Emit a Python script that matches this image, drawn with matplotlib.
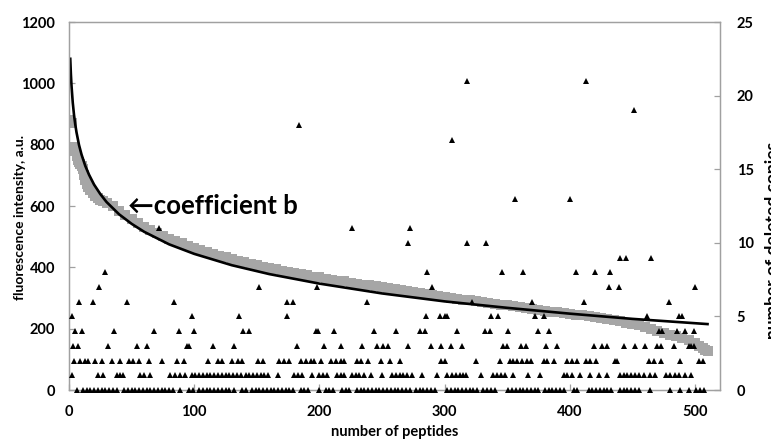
import numpy as np
import matplotlib.pyplot as plt

plt.rcParams['font.family'] = ['Lato', 'DejaVu Sans']

# measured fluorescence intensity (sorted), grey squares
intensity_x = [1, 2, 3, 4, 5, 6, 7, 8, 9, 10, 11, 12, 13, 14, 15, 17, 19, 21, 23, 25, 27,
               30, 35, 40, 45, 50, 55, 60, 65, 70, 75, 80, 85, 90, 95, 100, 105, 110, 115,
               120, 125, 130, 135, 140, 145, 150, 155, 160, 165, 170, 175, 180, 185, 190,
               195, 200, 205, 210, 215, 220, 225, 230, 235, 240, 245, 250, 255, 260, 265,
               270, 275, 280, 285, 290, 295, 300, 305, 310, 315, 320, 325, 330, 335, 340,
               345, 350, 355, 360, 365, 370, 375, 380, 385, 390, 395, 400, 405, 410, 415,
               420, 425, 430, 435, 440, 445, 450, 455, 460, 465, 470, 475, 480, 485, 490,
               495, 500, 503, 506, 508, 510]
intensity_y = [880, 872, 792, 786, 778, 764, 750, 742, 737, 732, 722, 702, 686, 673, 663, 651,
               642, 634, 627, 620, 615, 610, 600, 585, 570, 557, 544, 532, 522, 512, 503, 494,
               486, 478, 471, 464, 457, 451, 444, 438, 433, 427, 422, 417, 412, 407, 402, 398,
               394, 389, 385, 381, 377, 374, 370, 367, 363, 360, 357, 354, 350, 347, 344, 341,
               338, 335, 332, 329, 326, 322, 319, 316, 313, 310, 307, 304, 301, 298, 295, 292,
               289, 286, 283, 281, 278, 276, 273, 270, 267, 264, 261, 258, 256, 253, 251, 249,
               246, 243, 240, 237, 234, 231, 228, 224, 220, 216, 211, 206, 200, 193, 186, 180,
               175, 170, 162, 152, 145, 138, 132, 126]

# logarithmic trend line
trend_x = [1, 1.5, 2, 3, 4, 5, 6, 8, 10, 13, 16, 20, 25, 30, 40, 50, 60, 80, 100, 130,
           160, 200, 250, 300, 350, 400, 450, 510]
trend_y = [1080, 1030, 992, 937, 897, 866, 840, 799, 768, 731, 702, 670, 639, 613, 573, 542,
           516, 475, 444, 407, 378, 347, 315, 289, 268, 249, 232, 215]

# number of deleted copies (right axis): peptide positions for each count
deleted = {
    0: [6, 11, 14, 17, 20, 23, 26, 29, 32, 35, 38, 44, 47, 50, 53, 56, 59, 62, 65, 68, 71,
        74, 77, 80, 83, 89, 96, 99, 104, 107, 110, 113, 116, 119, 122, 125, 128, 132, 138,
        141, 146, 149, 152, 155, 158, 161, 164, 167, 170, 173, 176, 179, 185, 188, 191, 200,
        205, 208, 211, 218, 221, 224, 230, 233, 236, 239, 242, 245, 248, 251, 254, 257, 260,
        263, 266, 269, 272, 277, 280, 283, 286, 289, 292, 302, 305, 308, 311, 314, 317, 320,
        323, 326, 331, 334, 337, 340, 351, 354, 357, 360, 363, 366, 369, 372, 375, 380, 383,
        386, 389, 392, 395, 403, 406, 415, 418, 421, 424, 427, 430, 433, 440, 443, 446, 449,
        452, 455, 464, 480, 488, 495, 501, 504, 507],
    1: [2, 23, 27, 38, 41, 43, 57, 60, 65, 81, 85, 89, 93, 98, 101, 104, 107, 110, 113, 116,
        119, 122, 125, 128, 131, 134, 137, 141, 144, 147, 150, 153, 156, 159, 167, 180, 183,
        186, 194, 200, 203, 206, 214, 217, 220, 226, 229, 232, 236, 241, 250, 258, 261, 264,
        267, 270, 274, 282, 294, 302, 306, 309, 312, 315, 317, 329, 339, 342, 345, 348, 355,
        367, 376, 395, 398, 402, 408, 416, 423, 430, 440, 443, 446, 449, 452, 455, 459, 464,
        468, 477, 480, 484, 487, 492, 497],
    2: [4, 9, 13, 15, 21, 26, 34, 41, 48, 51, 56, 64, 74, 86, 92, 111, 119, 122, 130, 135,
        138, 151, 155, 168, 172, 176, 185, 189, 193, 196, 201, 209, 213, 217, 220, 230, 233,
        239, 249, 256, 264, 297, 300, 325, 344, 352, 355, 358, 362, 366, 369, 379, 382, 387,
        398, 402, 406, 413, 416, 421, 436, 438, 463, 467, 473, 488, 503, 506],
    3: [3, 7, 31, 54, 62, 94, 96, 115, 132, 182, 204, 217, 234, 246, 251, 255, 271, 289, 297,
        305, 314, 347, 350, 361, 365, 381, 390, 419, 426, 430, 443, 452, 460, 470, 473, 483,
        495, 497, 499],
    4: [5, 10, 36, 68, 88, 100, 139, 144, 197, 199, 212, 244, 261, 280, 284, 310, 332, 336,
        351, 375, 383, 471, 474, 486, 492, 499],
    5: [2, 98, 136, 174, 285, 296, 300, 302, 337, 343, 372, 379, 462, 487, 490],
    6: [8, 19, 46, 84, 174, 179, 238, 322, 370, 411, 479],
    7: [24, 152, 198, 290, 431, 439, 500],
    8: [29, 286, 346, 363, 405, 420, 432],
    9: [440, 445, 465],
    10: [271, 318, 333],
    11: [72, 226, 272],
    13: [356, 400],
    17: [306],
    18: [184],
    19: [451],
    21: [318, 413],
}

spine_grey = '#A0A0A0'

fig = plt.figure(figsize=(7.71, 4.42), dpi=100)
ax = fig.add_axes([0.0895, 0.1176, 0.8444, 0.8326])

ax.plot(intensity_x, intensity_y, 's', color='#A6A6A6', markersize=7.5,
        markeredgewidth=0, zorder=2)
ax.plot(trend_x, trend_y, '-', color='black', linewidth=1.9, zorder=3)

ax.set_xlim(0, 520)
ax.set_ylim(0, 1200)
ax.set_xticks(range(0, 501, 100))
ax.set_yticks(range(0, 1201, 200))

ax.text(47, 600, '\u2190coefficient b', fontsize=18.5, fontweight='bold',
        ha='left', va='center', zorder=5)

ax2 = ax.twinx()
for count, xs in deleted.items():
    ax2.plot(xs, [count] * len(xs), '^', color='black', markersize=4.6,
             markeredgewidth=0, linestyle='none', clip_on=False, zorder=4)
ax2.set_ylim(0, 25)
ax2.set_yticks(range(0, 26, 5))

for a in (ax, ax2):
    for s in a.spines.values():
        s.set_color(spine_grey)
        s.set_linewidth(0.9)
        s.set_zorder(1)
    a.tick_params(direction='in', length=4, width=0.9, color=spine_grey)
    for lab in a.get_xticklabels() + a.get_yticklabels():
        lab.set_fontweight('bold')
        lab.set_fontsize(10.5)
ax.tick_params(axis='y', pad=10)
ax.tick_params(axis='x', pad=11)
ax2.tick_params(axis='y', pad=12)

ax.set_xlabel('number of peptides', fontsize=10.5, fontweight='bold', labelpad=4)
fig.text(20 / 771, 1 - 218 / 442, 'fluorescence intensity, a.u.', rotation=90,
         fontsize=10, fontweight='bold', ha='center', va='center')
fig.text(773 / 771, 1 - 240 / 442, 'number of deleted copies', rotation=90,
         fontsize=12.5, fontweight='bold', ha='center', va='center')

fig.savefig('out.png', dpi=100)
